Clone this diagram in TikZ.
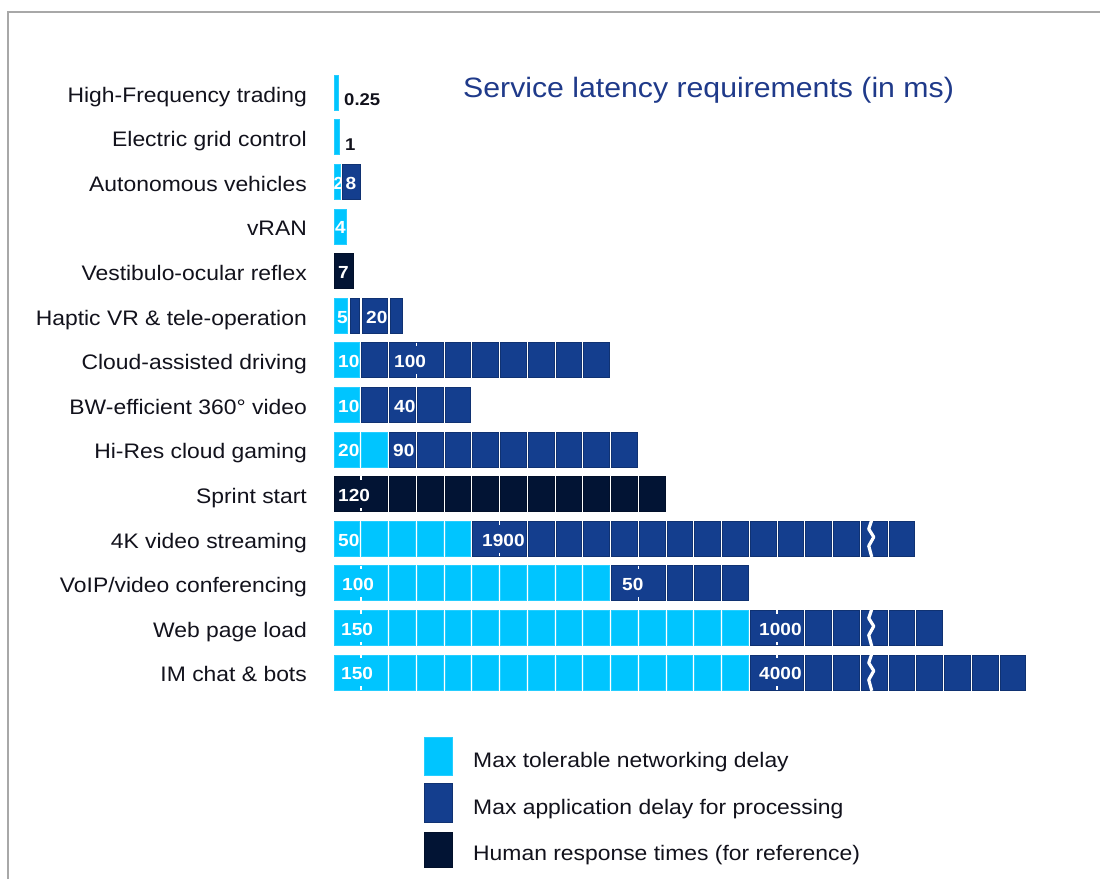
\documentclass[tikz,border=0pt]{standalone}
\usepackage{fontspec}
\setmainfont{Liberation Sans}
\definecolor{cyanbar}{RGB}{0,197,255}
\definecolor{bluebar}{RGB}{20,62,142}
\definecolor{navybar}{RGB}{2,20,52}
\definecolor{titleblue}{RGB}{31,58,138}
\definecolor{labeltxt}{RGB}{18,18,28}
\definecolor{framegray}{RGB}{168,168,168}
\newcommand\colx[1]{334+27.75*(#1)}
\newcommand\rowy[1]{92.5+44.6*(#1)}
\newcommand\hs[1]{\scalebox{1.09}[1]{#1}}
\tikzset{
  cyc/.style={fill=cyanbar,draw=cyanbar!85!white,line width=0.6pt},
  blc/.style={fill=bluebar,draw=bluebar!80!black,line width=0.6pt},
  nvc/.style={fill=navybar,draw=navybar!80!black,line width=0.6pt},
  rowlabel/.style={font=\fontsize{21}{25}\selectfont,text=labeltxt,inner sep=0pt,anchor=base east},
  valtext/.style={font=\fontsize{17.5}{20}\selectfont\bfseries,text=white,inner sep=0pt,anchor=base west},
  darkval/.style={font=\fontsize{17}{20}\selectfont\bfseries,text=labeltxt,inner sep=0pt,anchor=base west},
  legtext/.style={font=\fontsize{21}{25}\selectfont,text=labeltxt,inner sep=0pt,anchor=base west},
}
\newcommand\cellrun[4]{\foreach \k in {#2,...,#3}{\path[#4] ({\colx{\k}},{\rowy{#1}-17.5}) rectangle ({\colx{\k+1}-2},{\rowy{#1}+17.5});}}
\newcommand\twocell[3]{%
  \path[#3] ({\colx{#2}},{\rowy{#1}-17.5}) rectangle ({\colx{#2+2}-2},{\rowy{#1}+17.5});
  \draw[white,line width=1.5pt] ({\colx{#2+1}-1},{\rowy{#1}-17.5}) -- ++(0,3.5);
  \draw[white,line width=1.5pt] ({\colx{#2+1}-1},{\rowy{#1}+17.5}) -- ++(0,-3.5);}
\newcommand\brk[1]{\draw[white,line width=3.2pt,line join=round] ({\colx{19}+10.5},{\rowy{#1}-18.5}) -- ++(-3,9) -- ++(5,8) -- ++(-5,9) -- ++(3,11);}
\newcommand\val[4]{\node[valtext] (#4) at (#2,{\rowy{#1}+7.5}) {\hs{#3}};}
\newcommand\rowlab[2]{\node[rowlabel] (lab#1) at (307,{\rowy{#1}+9.5}) {\hs{#2}};}
\begin{document}
\begin{tikzpicture}[x=1pt,y=-1pt]
\useasboundingbox (0,0) rectangle (1100,879);
\fill[white] (0,0) rectangle (1100,879);
\draw[framegray,line width=2pt] (8,879) -- (8,12) -- (1100,12);

% title
\node[font=\fontsize{28}{32}\selectfont,text=titleblue,inner sep=0pt,anchor=base west] (title) at (463,97) {\scalebox{1.08}[1]{Service latency requirements (in ms)}};

% row labels
\rowlab{0}{High-Frequency trading}
\rowlab{1}{Electric grid control}
\rowlab{2}{Autonomous vehicles}
\rowlab{3}{vRAN}
\rowlab{4}{Vestibulo-ocular reflex}
\rowlab{5}{Haptic VR \& tele-operation}
\rowlab{6}{Cloud-assisted driving}
\rowlab{7}{BW-efficient 360° video}
\rowlab{8}{Hi-Res cloud gaming}
\rowlab{9}{Sprint start}
\rowlab{10}{4K video streaming}
\rowlab{11}{VoIP/video conferencing}
\rowlab{12}{Web page load}
\rowlab{13}{IM chat \& bots}

% row 0: HFT
\path[cyc] (334,{\rowy{0}-17.5}) rectangle (338.5,{\rowy{0}+17.5});
\node[darkval] (v0) at (344,105) {\hs{0.25}};
% row 1: electric grid
\path[cyc] (334,{\rowy{1}-17.5}) rectangle (339,{\rowy{1}+17.5});
\node[darkval] (v1) at (345,150) {\hs{1}};
% row 2: autonomous
\path[cyc] (334,{\rowy{2}-17.5}) rectangle (340,{\rowy{2}+17.5});
\begin{scope}
\clip (334,{\rowy{2}-17.5}) rectangle (340,{\rowy{2}+17.5});
\node[valtext] (v2a) at (333.5,{\rowy{2}+7.5}) {2};
\end{scope}
\path[blc] (342,{\rowy{2}-17.5}) rectangle (360,{\rowy{2}+17.5});
\val{2}{345.5}{8}{v2b}
% row 3: vRAN
\path[cyc] (334,{\rowy{3}-17.5}) rectangle (346,{\rowy{3}+17.5});
\val{3}{335}{4}{v3}
% row 4: vestibulo
\path[nvc] (334,{\rowy{4}-17.5}) rectangle (353,{\rowy{4}+17.5});
\val{4}{338}{7}{v4}
% row 5: haptic
\path[cyc] (334,{\rowy{5}-17.5}) rectangle (347,{\rowy{5}+17.5});
\path[blc] (350,{\rowy{5}-17.5}) rectangle (359.5,{\rowy{5}+17.5});
\path[blc] (362,{\rowy{5}-17.5}) rectangle (387.5,{\rowy{5}+17.5});
\path[blc] (390,{\rowy{5}-17.5}) rectangle (402,{\rowy{5}+17.5});
\val{5}{337}{5}{v5a}
\val{5}{366}{20}{v5b}
% row 6: cloud driving
\cellrun{6}{0}{0}{cyc}
\cellrun{6}{1}{1}{blc}
\twocell{6}{2}{blc}
\cellrun{6}{4}{9}{blc}
\val{6}{338}{10}{v6a}
\val{6}{394}{100}{v6b}
% row 7: BW 360
\cellrun{7}{0}{0}{cyc}
\cellrun{7}{1}{4}{blc}
\val{7}{338}{10}{v7a}
\val{7}{394}{40}{v7b}
% row 8: hi-res gaming
\cellrun{8}{0}{1}{cyc}
\cellrun{8}{2}{10}{blc}
\val{8}{338}{20}{v8a}
\val{8}{393}{90}{v8b}
% row 9: sprint
\twocell{9}{0}{nvc}
\cellrun{9}{2}{11}{nvc}
\val{9}{338}{120}{v9}
% row 10: 4K
\cellrun{10}{0}{4}{cyc}
\twocell{10}{5}{blc}
\cellrun{10}{7}{20}{blc}
\brk{10}
\val{10}{338}{50}{v10a}
\val{10}{482}{1900}{v10b}
% row 11: VoIP
\twocell{11}{0}{cyc}
\cellrun{11}{2}{9}{cyc}
\twocell{11}{10}{blc}
\cellrun{11}{12}{14}{blc}
\val{11}{342}{100}{v11a}
\val{11}{622}{50}{v11b}
% row 12: web
\twocell{12}{0}{cyc}
\cellrun{12}{2}{14}{cyc}
\twocell{12}{15}{blc}
\cellrun{12}{17}{21}{blc}
\brk{12}
\val{12}{341}{150}{v12a}
\val{12}{759}{1000}{v12b}
% row 13: IM
\twocell{13}{0}{cyc}
\cellrun{13}{2}{14}{cyc}
\twocell{13}{15}{blc}
\cellrun{13}{17}{24}{blc}
\brk{13}
\val{13}{341}{150}{v13a}
\val{13}{759}{4000}{v13b}

% legend
\path[cyc] (424,737) rectangle (452,775);
\path[blc] (424,783) rectangle (452,822);
\path[nvc] (424,832) rectangle (452,867);
\node[legtext] (leg1) at (473,767) {\hs{Max tolerable networking delay}};
\node[legtext] (leg2) at (473,814) {\hs{Max application delay for processing}};
\node[legtext] (leg3) at (473,860) {\hs{Human response times (for reference)}};
\end{tikzpicture}
\end{document}
